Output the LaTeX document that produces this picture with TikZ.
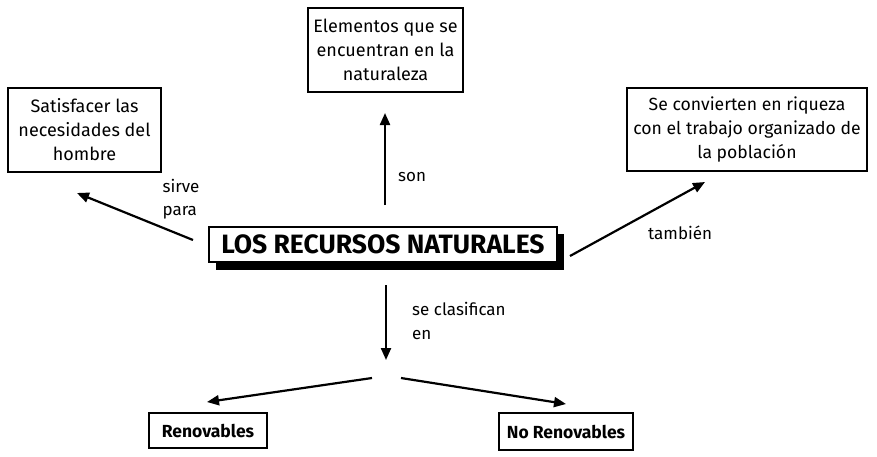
\documentclass[tikz,border=0pt]{standalone}
\usepackage{fontspec}
\setmainfont{Fira Sans}
\usetikzlibrary{arrows.meta}
\begin{document}
\begin{tikzpicture}[x=1pt,y=-1pt,
  box/.style={draw,line width=2pt,align=center,inner sep=0pt,
    font=\fontsize{18}{24}\selectfont},
  lbl/.style={align=left,inner sep=0pt,font=\fontsize{17}{23.5}\selectfont},
  conn/.style={line width=2.2pt,-{Triangle[length=12pt,width=10pt]}}]
\useasboundingbox (0,0) rectangle (877,456);
% boxes
\node[box,minimum width=155pt,minimum height=84pt] (elem) at (385.5,50) {Elementos que se\\encuentran en la\\naturaleza};
\node[box,minimum width=153pt,minimum height=84pt] (satis) at (84.5,130) {Satisfacer las\\necesidades del\\hombre};
\node[box,minimum width=240pt,minimum height=83pt,font=\fontsize{17.6}{24}\selectfont] (riq) at (747,129.5) {Se convierten en riqueza\\con el trabajo organizado de\\la población};
% central title with shadow
\fill (216,234) rectangle (564,270);
\node[draw,fill=white,line width=2pt,minimum width=348pt,minimum height=35pt,inner sep=0pt,
  font=\fontsize{26.5}{27}\bfseries\selectfont] (title) at (383,244.5) {LOS RECURSOS NATURALES};
\node[box,minimum width=118pt,minimum height=35pt,font=\fontsize{17.5}{18}\bfseries\selectfont] (ren) at (208,430.5) {Renovables};
\node[box,minimum width=134pt,minimum height=37pt,font=\fontsize{17.5}{18}\bfseries\selectfont] (noren) at (566,431.5) {No Renovables};
% coordinates
\coordinate (topS) at (385,205);
\coordinate (topE) at (385,113);
\coordinate (lS) at (193,240);
\coordinate (lE) at (77,193);
\coordinate (rS) at (570,256);
\coordinate (rE) at (705,182);
\coordinate (dS) at (386,285);
\coordinate (dE) at (386,360);
\coordinate (splitL) at (372,378);
\coordinate (splitR) at (401,378);
\coordinate (renE) at (207,402);
\coordinate (norE) at (566,404);
% connectors
\draw[conn] (topS) -- (topE);
\draw[conn] (lS) -- (lE);
\draw[conn] (rS) -- (rE);
\draw[conn] (dS) -- (dE);
\draw[conn] (splitL) -- (renE);
\draw[conn] (splitR) -- (norE);
% labels
\node[lbl,anchor=west] (son) at (398,177) {son};
\node[lbl,anchor=center] (sirve) at (181,199) {sirve\\para};
\node[lbl,anchor=west] (tamb) at (648,233) {también};
\node[lbl,anchor=west] (clas) at (412,321) {se clasifican\\en};
\end{tikzpicture}
\end{document}
